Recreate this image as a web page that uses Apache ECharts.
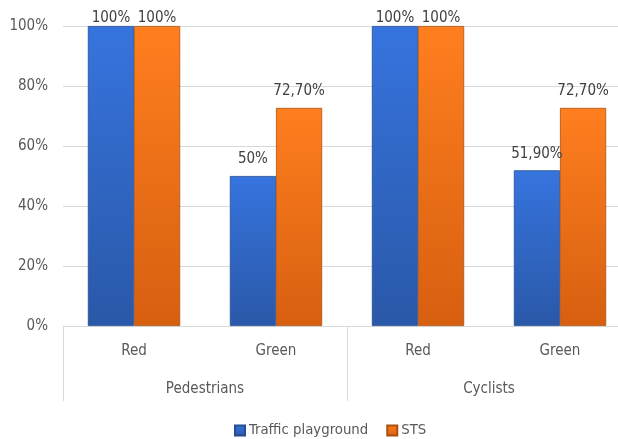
<!DOCTYPE html>
<html><head><meta charset="utf-8">
<script src="https://cdn.jsdelivr.net/npm/echarts@6/dist/echarts.min.js"></script>
<style>html,body{margin:0;padding:0;background:#fff;overflow:hidden;width:618px;height:439px}#c{width:640px;height:439px}</style>
</head><body><div id="c"></div>
<script>
const categories = ['Red', 'Green', 'Red', 'Green'];
const groups = ['Pedestrians', 'Cyclists'];
const seriesNames = ['Traffic playground', 'STS'];
const trafficPlayground = [100, 50, 100, 51.9];
const sts = [100, 72.7, 100, 72.7];
const yTicks = [0, 20, 40, 60, 80, 100];

const FONT = '"Liberation Sans Narrow","DejaVu Sans Condensed","Open Sans",sans-serif';
function fmt(v) {
  return Number.isInteger(v) ? v + '%' : v.toFixed(2).replace('.', ',') + '%';
}
function grad(top, bottom) {
  return new echarts.graphic.LinearGradient(0, 0, 0, 1, [
    { offset: 0, color: top }, { offset: 1, color: bottom }
  ]);
}
const blue = grad('#3674de', '#2a58a8');
const orange = grad('#ff7f1f', '#d75f10');
function mkData(arr) {
  return arr.map(v => ({ value: v, label: { distance: v >= 100 ? 0 : 9 } }));
}
const chart = echarts.init(document.getElementById('c'));
chart.setOption({
  animation: false,
  textStyle: { fontFamily: FONT },
  grid: { left: 63, right: 9, top: 26, height: 300, containLabel: false },
  legend: {
    left: 229, top: 418,
    itemWidth: 10, itemHeight: 10, itemGap: 18,
    icon: 'rect',
    textStyle: { fontFamily: FONT, fontSize: 14.8, color: '#595959', padding: [0, 0, 0, -1] },
    data: seriesNames
  },
  xAxis: [
    {
      type: 'category', data: categories, position: 'bottom',
      axisLine: { lineStyle: { color: '#d9d9d9', width: 1 } },
      axisTick: { show: false },
      axisLabel: { fontFamily: FONT, fontSize: 15, color: '#595959', margin: 18 }
    },
    {
      type: 'category', data: groups, position: 'bottom',
      axisLine: { show: false },
      axisTick: { show: true, length: 75, lineStyle: { color: '#d9d9d9' }, inside: false },
      axisLabel: { fontFamily: FONT, fontSize: 15, color: '#595959', margin: 56 }
    }
  ],
  yAxis: {
    type: 'value', min: 0, max: 100, interval: 20,
    axisLine: { show: false }, axisTick: { show: false },
    splitLine: { lineStyle: { color: '#d9d9d9', width: 1 } },
    axisLabel: {
      fontFamily: FONT, fontSize: 15, color: '#595959', margin: 15,
      formatter: v => yTicks.includes(v) ? v + '%' : ''
    }
  },
  series: [
    {
      name: seriesNames[0], type: 'bar', xAxisIndex: 0,
      data: mkData(trafficPlayground), barGap: '0%', barCategoryGap: '35%',
      itemStyle: { color: blue, borderColor: '#244c93', borderWidth: 0.8 },
      label: { show: true, position: 'top', fontFamily: FONT, fontSize: 15, color: '#404040', formatter: p => fmt(p.value) }
    },
    {
      name: seriesNames[1], type: 'bar', xAxisIndex: 0,
      data: mkData(sts), barGap: '0%', barCategoryGap: '35%',
      itemStyle: { color: orange, borderColor: '#a9500f', borderWidth: 0.8 },
      label: { show: true, position: 'top', fontFamily: FONT, fontSize: 15, color: '#404040', formatter: p => fmt(p.value) }
    }
  ]
});
</script></body></html>
